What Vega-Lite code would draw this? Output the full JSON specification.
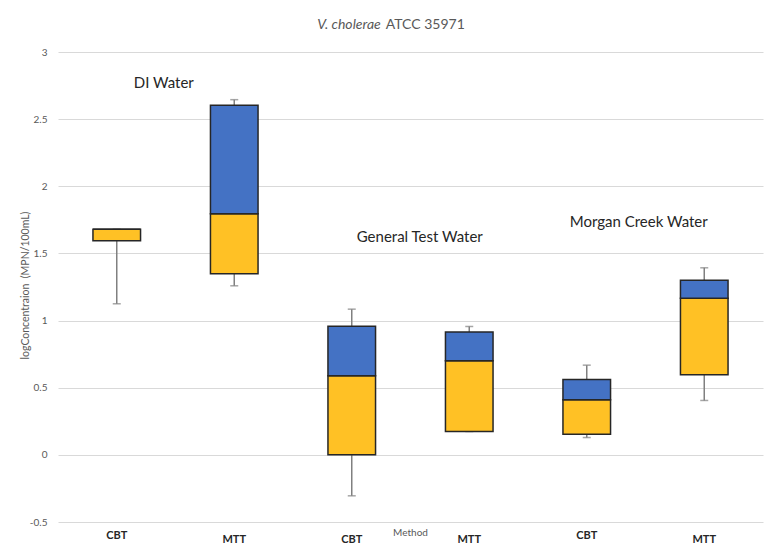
{
  "$schema": "https://vega.github.io/schema/vega-lite/v6.json",
  "autosize": {"type": "none"},
  "width": 705,
  "height": 470,
  "padding": {"left": 58, "top": 52, "right": 6, "bottom": 36},
  "background": "white",
  "config": {
    "view": {"stroke": null},
    "font": "Lato"
  },
  "datasets": {
    "boxes": [
      {"slot": 1, "method": "CBT", "group": "DI Water", "min": 1.125, "q1": 1.595, "median": 1.68, "q3": 1.68, "max": 1.68},
      {"slot": 2, "method": "MTT", "group": "DI Water", "min": 1.259, "q1": 1.349, "median": 1.796, "q3": 2.603, "max": 2.645},
      {"slot": 3, "method": "CBT", "group": "General Test Water", "min": -0.305, "q1": 0.0, "median": 0.589, "q3": 0.958, "max": 1.085},
      {"slot": 4, "method": "MTT", "group": "General Test Water", "min": 0.174, "q1": 0.174, "median": 0.7, "q3": 0.914, "max": 0.956},
      {"slot": 5, "method": "CBT", "group": "Morgan Creek Water", "min": 0.129, "q1": 0.154, "median": 0.41, "q3": 0.561, "max": 0.668},
      {"slot": 6, "method": "MTT", "group": "Morgan Creek Water", "min": 0.405, "q1": 0.596, "median": 1.167, "q3": 1.301, "max": 1.393}
    ],
    "notes": [
      {"label": "DI Water", "slot": 1, "value": 2.767},
      {"label": "General Test Water", "slot": 3, "value": 1.619},
      {"label": "Morgan Creek Water", "slot": 5, "value": 1.731}
    ],
    "heading": [
      {"part": "V. cholerae", "slot": 3, "value": 3.199},
      {"part": "ATCC 35971", "slot": 3, "value": 3.199}
    ]
  },
  "encoding": {
    "x": {
      "field": "slot",
      "type": "ordinal",
      "scale": {"paddingInner": 0, "paddingOuter": 0},
      "axis": {
        "title": "Method",
        "labelExpr": "datum.value % 2 == 1 ? 'CBT' : 'MTT'",
        "labelAngle": 0,
        "labelFont": "Lato",
        "labelFontSize": 11,
        "labelFontWeight": "bold",
        "labelColor": "#262626",
        "labelBaseline": "middle",
        "labelPadding": {"condition": {"test": "datum.value == 1 || datum.value == 5", "value": 13}, "value": 17},
        "ticks": false,
        "domain": false,
        "grid": false,
        "titleFont": "Lato",
        "titleFontSize": 10,
        "titleFontWeight": "normal",
        "titleColor": "#595959",
        "titleBaseline": "middle",
        "titleY": 10,
        "titleX": 352
      }
    }
  },
  "layer": [
    {
      "data": {"name": "boxes"},
      "mark": {"type": "rule", "color": "#808080", "strokeWidth": 1.5},
      "encoding": {
        "y": {
          "field": "min",
          "type": "quantitative",
          "scale": {"domain": [-0.5, 3], "nice": false, "zero": false},
          "axis": {
            "title": "logConcentraion\u00a0 (MPN/100mL)",
            "values": [-0.5, 0, 0.5, 1, 1.5, 2, 2.5, 3],
            "labelExpr": "'' + datum.value",
            "labelFont": "Lato",
            "labelFontSize": 10,
            "labelColor": "#595959",
            "labelPadding": 11,
            "ticks": false,
            "domain": false,
            "grid": true,
            "gridColor": "#d9d9d9",
            "gridWidth": 1,
            "titleFont": "Lato",
            "titleFontSize": 10.5,
            "titleFontWeight": "normal",
            "titleColor": "#595959",
            "titleAngle": -90,
            "titleAlign": "center",
            "titleBaseline": "middle",
            "titleX": -33,
            "titleY": 233
          }
        },
        "y2": {"field": "max"}
      }
    },
    {
      "data": {"name": "boxes"},
      "mark": {"type": "tick", "color": "#808080", "thickness": 1.5, "size": 8, "orient": "horizontal"},
      "encoding": {"y": {"field": "min", "type": "quantitative"}}
    },
    {
      "data": {"name": "boxes"},
      "mark": {"type": "tick", "color": "#808080", "thickness": 1.5, "size": 8, "orient": "horizontal"},
      "encoding": {"y": {"field": "max", "type": "quantitative"}}
    },
    {
      "data": {"name": "boxes"},
      "mark": {"type": "bar", "width": {"band": 0.405}, "fill": "#FFC125", "stroke": "#262626", "strokeWidth": 1.5},
      "encoding": {
        "y": {"field": "q1", "type": "quantitative"},
        "y2": {"field": "median"}
      }
    },
    {
      "data": {"name": "boxes"},
      "mark": {"type": "bar", "width": {"band": 0.405}, "fill": "#4472C4", "stroke": "#262626", "strokeWidth": 1.5},
      "encoding": {
        "y": {"field": "median", "type": "quantitative"},
        "y2": {"field": "q3"}
      }
    },
    {
      "data": {"name": "notes"},
      "transform": [{"filter": "datum.label == 'DI Water'"}],
      "mark": {"type": "text", "dx": 47, "align": "center", "baseline": "middle", "fontSize": 15, "font": "Lato", "color": "#262626"},
      "encoding": {"y": {"field": "value", "type": "quantitative"}, "text": {"field": "label"}}
    },
    {
      "data": {"name": "notes"},
      "transform": [{"filter": "datum.label == 'General Test Water'"}],
      "mark": {"type": "text", "dx": 68, "align": "center", "baseline": "middle", "fontSize": 15, "font": "Lato", "color": "#262626"},
      "encoding": {"y": {"field": "value", "type": "quantitative"}, "text": {"field": "label"}}
    },
    {
      "data": {"name": "notes"},
      "transform": [{"filter": "datum.label == 'Morgan Creek Water'"}],
      "mark": {"type": "text", "dx": 52, "align": "center", "baseline": "middle", "fontSize": 15, "font": "Lato", "color": "#262626"},
      "encoding": {"y": {"field": "value", "type": "quantitative"}, "text": {"field": "label"}}
    },
    {
      "data": {"name": "heading"},
      "transform": [{"filter": "datum.part == 'V. cholerae'"}],
      "mark": {"type": "text", "dx": 29, "align": "right", "baseline": "middle", "fontSize": 14, "font": "Lato", "fontStyle": "italic", "color": "#595959"},
      "encoding": {"y": {"field": "value", "type": "quantitative"}, "text": {"field": "part"}}
    },
    {
      "data": {"name": "heading"},
      "transform": [{"filter": "datum.part == 'ATCC 35971'"}],
      "mark": {"type": "text", "dx": 34, "align": "left", "baseline": "middle", "fontSize": 14, "font": "Lato", "color": "#595959"},
      "encoding": {"y": {"field": "value", "type": "quantitative"}, "text": {"field": "part"}}
    }
  ]
}
